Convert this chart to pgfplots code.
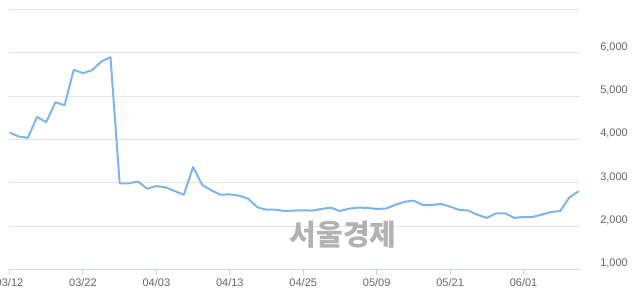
\documentclass[border=0pt]{standalone}
\usepackage{fontspec}
\setmainfont{Liberation Sans}
\newfontfamily\kr{Noto Sans CJK KR}
\usepackage{pgfplots}
\usepackage{pgfplotstable}
\pgfplotsset{compat=1.18}
\definecolor{hcline}{HTML}{7CB5EC}
\definecolor{hcgrid}{HTML}{E6E6E6}
\definecolor{hcaxis}{HTML}{CCD6EB}
\definecolor{hclabel}{HTML}{666666}
\definecolor{wm}{HTML}{B2B2B2}
\pgfplotstableread{
i v
0 4160
1 4070
2 4040
3 4520
4 4400
5 4860
6 4790
7 5610
8 5530
9 5600
10 5800
11 5900
12 2990
13 2990
14 3030
15 2865
16 2925
17 2895
18 2810
19 2725
20 3365
21 2950
22 2825
23 2725
24 2735
25 2705
26 2635
27 2435
28 2380
29 2380
30 2350
31 2360
32 2365
33 2360
34 2398
35 2428
36 2350
37 2405
38 2428
39 2420
40 2398
41 2405
42 2490
43 2560
44 2590
45 2490
46 2490
47 2513
48 2450
49 2375
50 2360
51 2260
52 2190
53 2297
54 2297
55 2190
56 2213
57 2213
58 2266
59 2328
60 2350
61 2666
62 2805
}\price
\begin{document}
\begin{tikzpicture}
\path[use as bounding box] (-9.5bp,-24.5bp) rectangle (630.5bp,269.5bp);
\begin{axis}[
  at={(0,0)}, anchor=south west,
  scale only axis, width=570.5bp, height=260bp,
  xmin=0, xmax=62.15, ymin=1000, ymax=7000,
  axis x line*=bottom, axis y line*=right,
  x axis line style={draw=hcaxis, line width=1bp, -},
  y axis line style={draw=none},
  ytick={1000,2000,3000,4000,5000,6000,7000},
  yticklabels={{1,000},{2,000},{3,000},{4,000},{5,000},{6,000},{}},
  ymajorgrids, grid style={draw=hcgrid, line width=1bp},
  xtick={0,8,16,24,32,40,48,56},
  xticklabels={03/12,03/22,04/03,04/13,04/25,05/09,05/21,06/01},
  tick align=outside, major tick length=5bp,
  xtick style={draw=hcaxis, line width=1bp},
  ytick style={draw=none},
  tick label style={font=\fontsize{11bp}{13bp}\selectfont, text=hclabel},
  yticklabel style={anchor=base east, inner sep=0pt, xshift=43bp, yshift=2.6bp},
  xticklabel style={anchor=base, inner sep=0pt, yshift=-12bp},
]
\addplot[hcline, line width=2bp, line join=round, mark=none] table[x=i, y=v] {\price};
\end{axis}
\node[text=wm, font=\kr\bfseries\fontsize{29bp}{31bp}\selectfont, inner sep=0pt] at (333.5bp,35bp) {서울경제};
\end{tikzpicture}
\end{document}
